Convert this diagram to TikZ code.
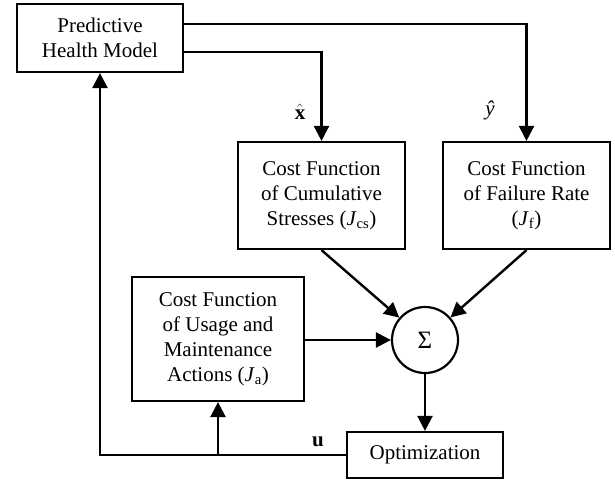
\documentclass[tikz,border=0pt]{standalone}
\usepackage{fontspec}
\setmainfont{Liberation Serif}
\usetikzlibrary{arrows.meta,calc}
\begin{document}
\begin{tikzpicture}[x=1pt,y=-1pt,
  every node/.style={font=\fontsize{21}{25}\selectfont, align=center, inner sep=0pt},
  blk/.style={draw, line width=2.2pt},
  conn/.style={line width=2.4pt},
  arr/.style={conn, -{Triangle[length=15pt,width=15pt]}}]
\useasboundingbox (0,0) rectangle (615,480);
\node[blk, minimum width=166pt, minimum height=68pt] (phm) at (100,38) {Predictive\\Health Model};
\node[blk, minimum width=167pt, minimum height=107pt] (cs) at (321.5,195.5) {Cost Function\\of Cumulative\\Stresses (\textit{J}\textsubscript{cs})};
\node[blk, minimum width=167pt, minimum height=107pt] (fr) at (526.5,195.5) {Cost Function\\of Failure Rate\\(\textit{J}\textsubscript{f})};
\node[blk, minimum width=172pt, minimum height=124pt] (ua) at (218,339) {Cost Function\\of Usage and\\Maintenance\\Actions (\textit{J}\textsubscript{a})};
\node[draw, circle, line width=2.2pt, minimum size=66pt, font=\fontsize{25}{25}\selectfont] (sum) at (425,340) {Σ};
\node[blk, minimum width=156pt, minimum height=46pt] (opt) at (425,455) {Optimization};
\coordinate (ya) at (0,24);
\coordinate (yb) at (0,52);
\node (xh) at (300,112) {$\hat{\mathbf{x}}$};
\node (yh) at (490,110) {\textit{ŷ}};
\node (uu) at (318,442) {\textbf{u}};
\draw[arr] (phm.east |- ya) -| (fr.north);
\draw[arr] (phm.east |- yb) -| (cs.north);
\draw[arr] (cs.south) -- (sum);
\draw[arr] (fr.south) -- (sum);
\draw[arr] (ua.east |- sum) -- (sum);
\draw[arr] (sum) -- (opt);
\draw[arr] (opt.west) -| (phm.south);
\draw[arr] (ua.south |- opt.west) -- (ua.south);
\end{tikzpicture}
\end{document}
